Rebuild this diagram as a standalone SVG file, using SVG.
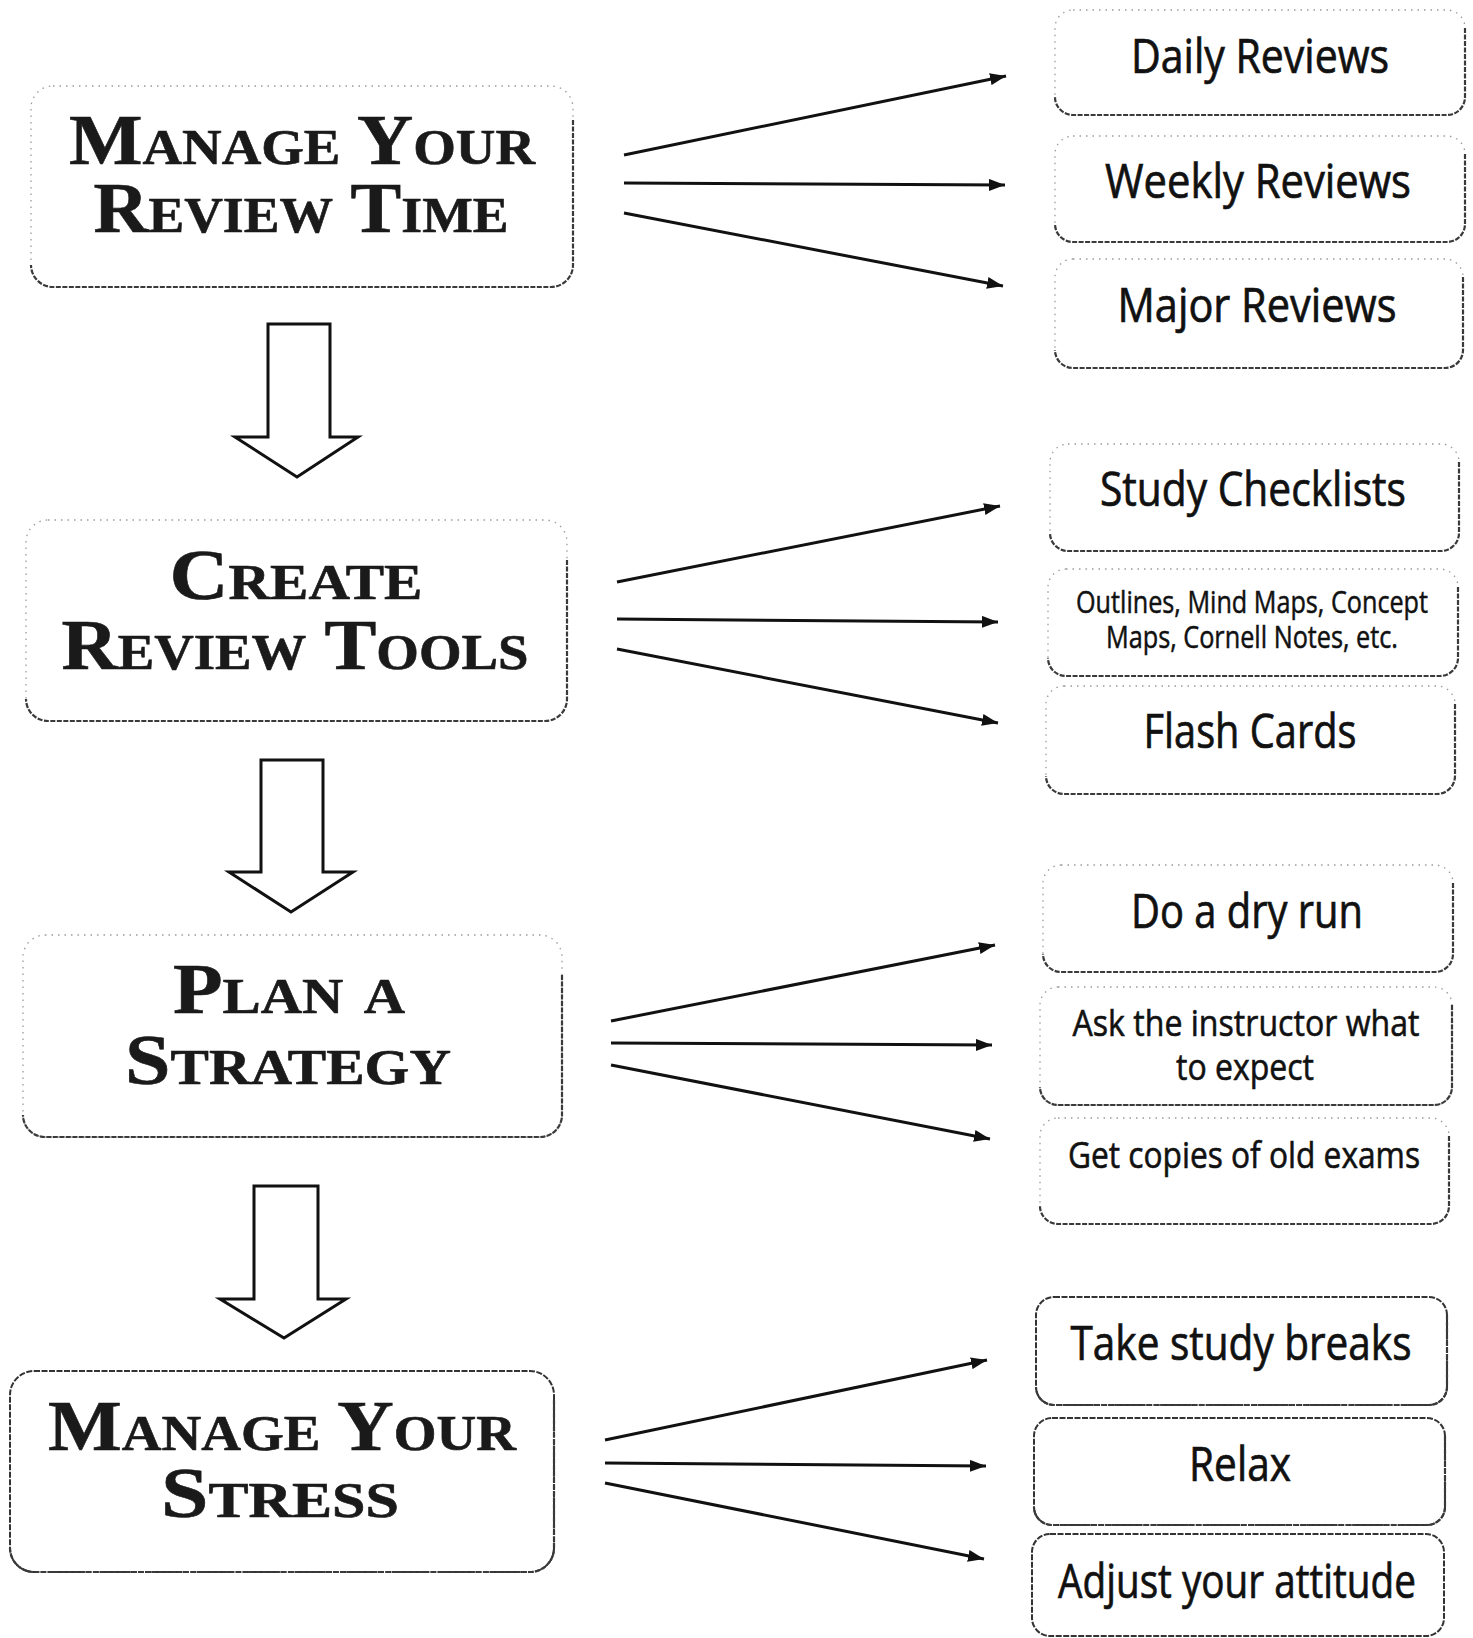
<svg xmlns="http://www.w3.org/2000/svg" width="1473" height="1638" viewBox="0 0 1473 1638">
<defs>
<style>
.bg{fill:#ffffff}
.faint{fill:none;stroke:#9a9a9a;stroke-width:1.3;stroke-dasharray:1.5 5}
.edge{fill:none;stroke:#3a3a3a;stroke-width:2.2;stroke-dasharray:5 1.5}
.solid{fill:none;stroke:#333;stroke-width:2;stroke-dasharray:6 1.5}
.title{font-family:"Liberation Serif","Times New Roman",serif;font-weight:bold;font-variant:small-caps;font-size:71px;fill:#1a1a1a;text-anchor:middle;stroke:#1a1a1a;stroke-width:0.6}
.item{font-family:"Open Sans","Noto Sans","Liberation Sans",sans-serif;font-size:47px;fill:#111;text-anchor:middle;stroke:#111;stroke-width:0.7}
.small{font-size:37px;stroke-width:0.6}
.tiny{font-size:31px;stroke-width:0.5}
.conn{stroke:#111;stroke-width:3;fill:none}
.block{fill:#fff;stroke:#111;stroke-width:3;stroke-linejoin:miter}
</style>
<marker id="ah" viewBox="0 0 16 12" refX="16" refY="6" markerWidth="16" markerHeight="12" markerUnits="userSpaceOnUse" orient="auto">
<path d="M0,0 L16,6 L0,12 z" fill="#111"/>
</marker>
</defs>
<rect class="bg" x="0" y="0" width="1473" height="1638"/>

<g id="node-manage-review-time">
<rect class="faint" x="31" y="86" width="542" height="201" rx="22"/>
<path class="edge" d="M573,120 V265 A22,22 0 0 1 551,287 H53 A22,22 0 0 1 31,265"/>
<text class="title" x="302" y="164" textLength="466" lengthAdjust="spacingAndGlyphs">Manage Your</text>
<text class="title" x="301" y="232" textLength="415" lengthAdjust="spacingAndGlyphs">Review Time</text>
</g>

<g id="node-create-review-tools">
<rect class="faint" x="26" y="520" width="541" height="201" rx="22"/>
<path class="edge" d="M567,560 V699 A22,22 0 0 1 545,721 H48 A22,22 0 0 1 26,699"/>
<text class="title" x="296" y="599" textLength="253" lengthAdjust="spacingAndGlyphs">Create</text>
<text class="title" x="295" y="669" textLength="467" lengthAdjust="spacingAndGlyphs">Review Tools</text>
</g>

<g id="node-plan-a-strategy">
<rect class="faint" x="23" y="935" width="539" height="202" rx="22"/>
<path class="edge" d="M562,975 V1115 A22,22 0 0 1 540,1137 H45 A22,22 0 0 1 23,1115"/>
<text class="title" x="289" y="1013" textLength="232" lengthAdjust="spacingAndGlyphs">Plan a</text>
<text class="title" x="288" y="1084" textLength="326" lengthAdjust="spacingAndGlyphs">Strategy</text>
</g>

<g id="node-manage-your-stress">
<rect class="solid" x="10" y="1371" width="544" height="201" rx="24"/>
<path class="edge" d="M554,1400 V1548 A24,24 0 0 1 530,1572 H34 A24,24 0 0 1 10,1548"/>
<text class="title" x="282" y="1450" textLength="468" lengthAdjust="spacingAndGlyphs">Manage Your</text>
<text class="title" x="280" y="1517" textLength="238" lengthAdjust="spacingAndGlyphs">Stress</text>
</g>

<g id="node-daily-reviews">
<rect class="faint" x="1055" y="10" width="410" height="105" rx="18"/>
<path class="edge" d="M1465,28 V97 A18,18 0 0 1 1447,115 H1073 A18,18 0 0 1 1055,97"/>
<text class="item" x="1260" y="73" textLength="258" lengthAdjust="spacingAndGlyphs">Daily Reviews</text>
</g>
<g id="node-weekly-reviews">
<rect class="faint" x="1055" y="136" width="410" height="106" rx="18"/>
<path class="edge" d="M1465,154 V224 A18,18 0 0 1 1447,242 H1073 A18,18 0 0 1 1055,224"/>
<text class="item" x="1258" y="198" textLength="306" lengthAdjust="spacingAndGlyphs">Weekly Reviews</text>
</g>
<g id="node-major-reviews">
<rect class="faint" x="1055" y="259" width="408" height="109" rx="18"/>
<path class="edge" d="M1463,277 V350 A18,18 0 0 1 1445,368 H1073 A18,18 0 0 1 1055,350"/>
<text class="item" x="1257" y="322" textLength="279" lengthAdjust="spacingAndGlyphs">Major Reviews</text>
</g>

<g id="node-study-checklists">
<rect class="faint" x="1050" y="444" width="409" height="107" rx="18"/>
<path class="edge" d="M1459,462 V533 A18,18 0 0 1 1441,551 H1068 A18,18 0 0 1 1050,533"/>
<text class="item" x="1253" y="506" textLength="306" lengthAdjust="spacingAndGlyphs">Study Checklists</text>
</g>
<g id="node-outlines">
<rect class="faint" x="1048" y="569" width="410" height="107" rx="18"/>
<path class="edge" d="M1458,587 V658 A18,18 0 0 1 1440,676 H1066 A18,18 0 0 1 1048,658"/>
<text class="item tiny" x="1252" y="613" textLength="352" lengthAdjust="spacingAndGlyphs">Outlines, Mind Maps, Concept</text>
<text class="item tiny" x="1252" y="648" textLength="292" lengthAdjust="spacingAndGlyphs">Maps, Cornell Notes, etc.</text>
</g>
<g id="node-flash-cards">
<rect class="faint" x="1046" y="686" width="409" height="108" rx="18"/>
<path class="edge" d="M1455,704 V776 A18,18 0 0 1 1437,794 H1064 A18,18 0 0 1 1046,776"/>
<text class="item" x="1250" y="748" textLength="213" lengthAdjust="spacingAndGlyphs">Flash Cards</text>
</g>

<g id="node-dry-run">
<rect class="faint" x="1043" y="865" width="410" height="107" rx="18"/>
<path class="edge" d="M1453,883 V954 A18,18 0 0 1 1435,972 H1061 A18,18 0 0 1 1043,954"/>
<text class="item" x="1247" y="928" textLength="232" lengthAdjust="spacingAndGlyphs">Do a dry run</text>
</g>
<g id="node-ask-instructor">
<rect class="faint" x="1040" y="987" width="412" height="118" rx="18"/>
<path class="edge" d="M1452,1005 V1087 A18,18 0 0 1 1434,1105 H1058 A18,18 0 0 1 1040,1087"/>
<text class="item small" x="1246" y="1036" textLength="347" lengthAdjust="spacingAndGlyphs">Ask the instructor what</text>
<text class="item small" x="1245" y="1080" textLength="138" lengthAdjust="spacingAndGlyphs">to expect</text>
</g>
<g id="node-old-exams">
<rect class="faint" x="1040" y="1118" width="409" height="106" rx="18"/>
<path class="edge" d="M1449,1136 V1206 A18,18 0 0 1 1431,1224 H1058 A18,18 0 0 1 1040,1206"/>
<text class="item small" x="1244" y="1168" textLength="352" lengthAdjust="spacingAndGlyphs">Get copies of old exams</text>
</g>

<g id="node-study-breaks">
<rect class="solid" x="1036" y="1297" width="411" height="108" rx="18"/>
<path class="edge" d="M1447,1315 V1387 A18,18 0 0 1 1429,1405 H1054 A18,18 0 0 1 1036,1387"/>
<text class="item" x="1241" y="1360" textLength="341" lengthAdjust="spacingAndGlyphs">Take study breaks</text>
</g>
<g id="node-relax">
<rect class="solid" x="1034" y="1418" width="411" height="107" rx="18"/>
<path class="edge" d="M1445,1436 V1507 A18,18 0 0 1 1427,1525 H1052 A18,18 0 0 1 1034,1507"/>
<text class="item" x="1240" y="1481" textLength="102" lengthAdjust="spacingAndGlyphs">Relax</text>
</g>
<g id="node-adjust-attitude">
<rect class="solid" x="1032" y="1534" width="412" height="102" rx="18"/>
<text class="item" x="1237" y="1598" textLength="358" lengthAdjust="spacingAndGlyphs">Adjust your attitude</text>
</g>

<g id="connectors">
<line class="conn" x1="624" y1="155" x2="1006" y2="76" marker-end="url(#ah)"/>
<line class="conn" x1="624" y1="183" x2="1005" y2="185" marker-end="url(#ah)"/>
<line class="conn" x1="624" y1="213" x2="1003" y2="286" marker-end="url(#ah)"/>

<line class="conn" x1="617" y1="582" x2="1000" y2="506" marker-end="url(#ah)"/>
<line class="conn" x1="617" y1="619" x2="998" y2="622" marker-end="url(#ah)"/>
<line class="conn" x1="617" y1="649" x2="998" y2="723" marker-end="url(#ah)"/>

<line class="conn" x1="611" y1="1021" x2="995" y2="945" marker-end="url(#ah)"/>
<line class="conn" x1="611" y1="1043" x2="992" y2="1045" marker-end="url(#ah)"/>
<line class="conn" x1="611" y1="1065" x2="990" y2="1139" marker-end="url(#ah)"/>

<line class="conn" x1="605" y1="1440" x2="987" y2="1360" marker-end="url(#ah)"/>
<line class="conn" x1="605" y1="1463" x2="986" y2="1466" marker-end="url(#ah)"/>
<line class="conn" x1="605" y1="1483" x2="984" y2="1559" marker-end="url(#ah)"/>

<polygon class="block" points="268,324 330,324 330,437 358,437 297,477 235,437 268,437"/>
<polygon class="block" points="261,760 323,760 323,872 353,872 291,912 229,872 261,872"/>
<polygon class="block" points="254,1186 318,1186 318,1299 346,1299 284,1338 220,1299 254,1299"/>
</g>
</svg>
